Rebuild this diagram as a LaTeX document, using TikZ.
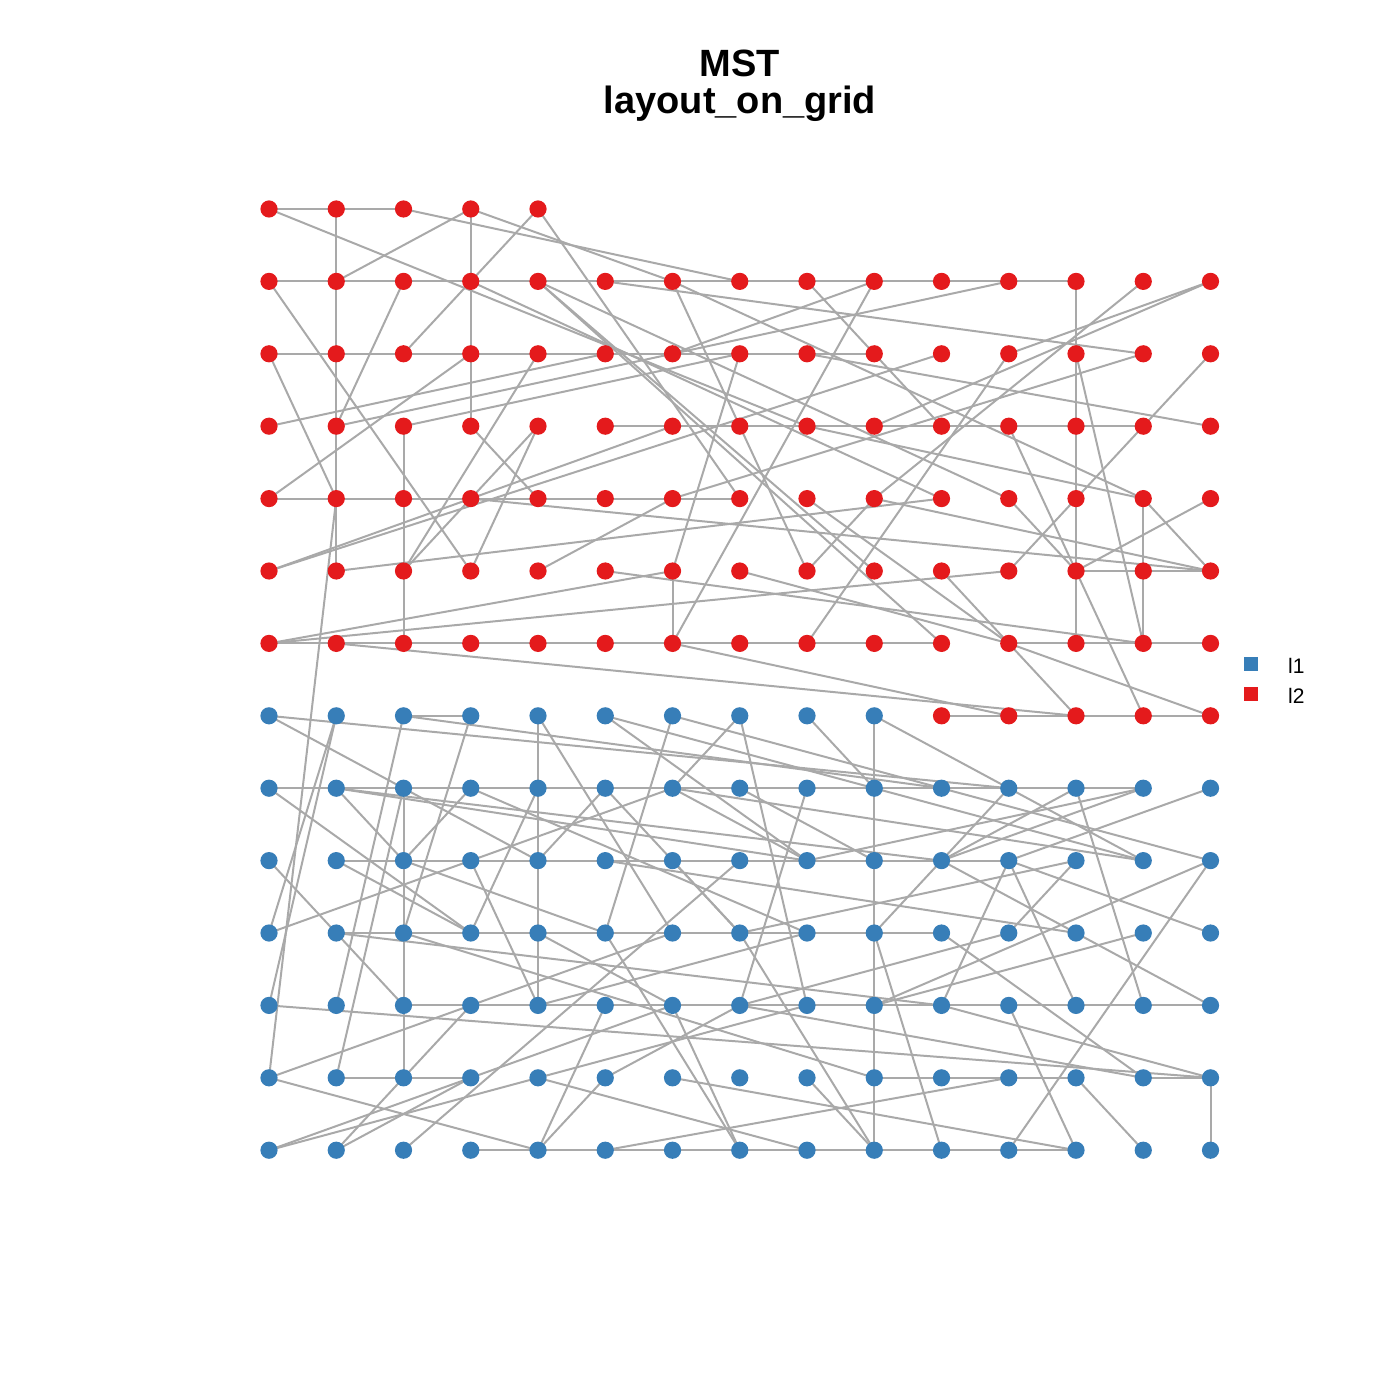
\documentclass[tikz,border=0pt]{standalone}
\usepackage{fontspec}
\setmainfont{Liberation Sans}
\pgfdeclarelayer{bg}
\pgfsetlayers{bg,main}
\begin{document}
\begin{tikzpicture}[x=0.5pt,y=-0.5pt]
\definecolor{rd}{HTML}{E41A1C}
\definecolor{bl}{HTML}{377EB8}
\definecolor{ed}{HTML}{A9A9A9}
\tikzset{
  rednode/.style={circle,fill=rd,inner sep=0pt,minimum size=8.6pt},
  bluenode/.style={circle,fill=bl,inner sep=0pt,minimum size=8.6pt},
  edgeline/.style={draw=ed,line width=1pt},
  titletext/.style={font=\fontsize{19}{23}\selectfont\bfseries,anchor=base},
  legtext/.style={font=\fontsize{10.5}{12}\selectfont,anchor=base west},
  legbox/.style={minimum size=7pt,inner sep=0pt}
}
\useasboundingbox (0,0) rectangle (1400,1400);
\node[titletext] (t1) at (740,77) {MST};
\node[titletext] (t2) at (740,114) {layout\_on\_grid};
\foreach \r in {0,...,13}{
  \foreach \c in {0,...,14}{
    \pgfmathtruncatemacro{\shw}{(\r>0 || \c<5) ? 1 : 0}
    \pgfmathtruncatemacro{\isred}{(\r<7 || (\r==7 && \c>9)) ? 1 : 0}
    \ifnum\shw=1
      \ifnum\isred=1
        \node[rednode] (n\r-\c) at ({269+\c*67.25},{209+\r*72.4}) {};
      \else
        \node[bluenode] (n\r-\c) at ({269+\c*67.25},{209+\r*72.4}) {};
      \fi
    \fi
  }
}
\begin{pgfonlayer}{bg}
\foreach \a/\b/\c/\d in {
0/0/0/1, 0/1/0/2, 0/0/3/8, 0/1/1/1, 0/2/1/7, 0/3/1/3, 0/3/1/1, 0/3/1/6, 0/4/1/3, 0/4/4/7,
1/0/1/1, 1/1/1/2, 1/2/1/3, 1/3/1/4, 1/4/1/5, 1/5/1/6, 1/6/1/7, 1/7/1/8, 1/8/1/9, 1/9/1/10, 1/10/1/11, 1/11/1/12,
1/1/2/1, 2/1/3/1, 3/1/4/1, 4/1/5/1, 1/3/2/3, 2/3/3/3, 1/12/2/12, 2/12/3/12, 3/12/4/12, 4/12/5/12, 5/12/6/12, 3/2/4/2, 4/2/5/2, 5/2/6/2, 4/13/5/13, 5/13/6/13, 5/6/6/6,
1/0/5/3, 1/2/3/1, 1/3/2/2, 1/3/4/10, 1/4/5/9, 1/4/6/10, 1/4/4/11, 1/5/2/13, 1/6/5/8, 1/6/4/13, 1/8/2/9, 1/9/6/6, 1/9/2/6, 1/11/2/6, 1/13/4/9, 1/14/2/11, 1/14/3/9,
2/0/2/1, 2/1/2/2, 2/2/2/3, 2/3/2/4, 2/4/2/5, 2/5/2/6, 2/6/2/7, 2/7/2/8, 2/8/2/9,
2/0/4/1, 2/3/4/0, 2/9/3/10, 2/7/5/6, 2/8/3/14, 2/11/6/8, 2/12/6/13, 2/13/4/6, 2/14/3/13, 3/0/2/5, 2/10/5/0, 5/2/2/4, 5/2/3/4, 3/4/5/3, 3/3/4/4, 3/1/2/6, 3/2/2/7,
3/5/3/6, 3/6/3/7, 3/7/3/8, 3/8/3/9, 3/9/3/10, 3/10/3/11, 3/11/3/12, 3/12/3/13,
3/11/5/12, 3/13/4/12, 5/0/3/6, 3/8/4/13, 4/13/5/14,
4/0/4/1, 4/1/4/2, 4/2/4/3, 4/3/4/4, 4/4/4/5, 4/5/4/6, 4/6/4/7,
4/3/5/14, 4/8/6/11, 4/9/5/8, 4/9/5/14, 5/1/4/10, 4/11/5/12, 4/14/5/12, 5/4/4/6, 5/5/6/13, 6/0/5/6, 5/7/6/11, 5/10/6/11, 5/11/4/12, 6/0/5/11, 5/12/5/13, 5/13/5/14,
6/0/6/1, 6/1/6/2, 6/2/6/3, 6/3/6/4, 6/4/6/5, 6/5/6/6, 6/6/6/7, 6/7/6/8, 6/8/6/9, 6/9/6/10, 6/11/6/12, 6/12/6/13, 6/13/6/14,
5/12/7/13, 6/11/7/12, 6/11/7/14, 6/1/7/12, 6/6/7/11,
7/10/7/11, 7/11/7/12, 7/12/7/13, 7/13/7/14,
4/1/12/0,
7/0/8/11, 7/0/8/2, 8/2/9/4, 7/1/10/0, 7/1/11/0, 7/2/7/3, 7/2/11/1, 7/2/8/10, 7/3/10/2,
7/4/8/4, 8/4/9/4, 9/4/10/4, 10/4/11/4,
7/4/10/6, 7/5/8/9, 7/5/9/8, 7/6/10/5, 7/6/8/10, 7/7/11/8, 7/7/8/6, 7/8/8/9,
7/9/8/9, 8/9/9/9, 9/9/10/9, 10/9/11/9, 11/9/12/9, 12/9/13/9,
7/9/8/11,
8/0/8/1, 8/1/8/2, 8/2/8/3, 8/3/8/4, 8/4/8/5, 8/5/8/6, 8/6/8/7, 8/7/8/8, 8/8/8/9, 8/9/8/10, 8/10/8/11, 8/11/8/12, 8/12/8/13,
8/11/9/13, 8/11/9/10, 8/12/9/10, 8/12/11/13, 8/14/9/11, 9/10/8/13, 9/11/11/10, 9/11/11/12, 9/11/10/14, 9/12/10/11, 9/12/10/7, 8/9/9/13, 8/6/9/13, 8/10/9/14, 9/14/13/11, 9/14/11/9,
10/0/9/3, 9/0/10/1,
8/2/9/2, 9/2/10/2, 10/2/11/2, 11/2/12/2,
10/1/11/2, 10/1/11/10, 10/2/12/9, 11/0/12/14, 12/0/11/3, 11/3/10/6, 11/3/12/2, 12/2/13/1, 12/0/13/4, 12/1/12/2, 12/1/8/2,
8/0/10/3, 8/1/9/10, 8/1/9/8, 8/1/9/2, 9/1/10/3, 9/2/8/3, 9/2/10/5, 9/3/11/4, 9/3/8/6, 9/4/8/5, 8/4/10/3, 8/5/10/7, 8/6/9/8, 8/7/9/9, 8/8/11/7, 8/13/9/8, 9/6/10/7, 8/3/10/8,
9/1/9/2, 9/2/9/3, 9/3/9/4, 9/4/9/5, 9/5/9/6, 9/6/9/7, 9/7/9/8, 9/8/9/9, 9/9/9/10, 9/10/9/11,
10/1/10/2, 10/2/10/3, 10/3/10/4, 10/4/10/5, 10/5/10/6, 10/6/10/7, 10/7/10/8, 10/8/10/9, 10/9/10/10,
11/2/11/3, 11/3/11/4, 11/4/11/5, 11/5/11/6, 11/6/11/7, 11/7/11/8, 11/8/11/9, 11/9/11/10, 11/10/11/11, 11/11/11/12, 11/12/11/13, 11/13/11/14,
12/2/12/3, 12/9/12/10, 12/10/12/11, 12/11/12/12, 12/13/12/14,
13/3/13/4, 13/4/13/5, 13/5/13/6, 13/6/13/7, 13/7/13/8, 13/8/13/9, 13/9/13/10, 13/10/13/11, 13/11/13/12,
12/14/13/14, 12/12/13/13, 11/11/13/12,
9/10/10/9, 10/9/13/10, 10/10/12/13, 10/13/11/9, 10/12/9/5, 11/14/9/10, 11/10/12/14, 12/11/13/5, 12/6/13/12, 11/7/12/13, 10/7/13/9, 12/8/13/9, 10/5/13/7, 11/6/13/7, 10/11/11/7,
13/0/12/3, 13/0/12/4, 13/2/9/7, 13/1/12/3, 12/5/11/7, 13/4/11/5, 13/4/12/5,
12/4/11/8, 12/4/13/8, 12/3/11/6, 11/4/10/8, 10/4/11/6}{
  \draw[edgeline] (n\a-\b.center) -- (n\c-\d.center);
}
\end{pgfonlayer}
\node[legbox,fill=bl] (lg1) at (1251,664) {};
\node[legbox,fill=rd] (lg2) at (1251,694) {};
\node[legtext] (lt1) at (1281,673) {l1};
\node[legtext] (lt2) at (1281,703) {l2};
\end{tikzpicture}
\end{document}
